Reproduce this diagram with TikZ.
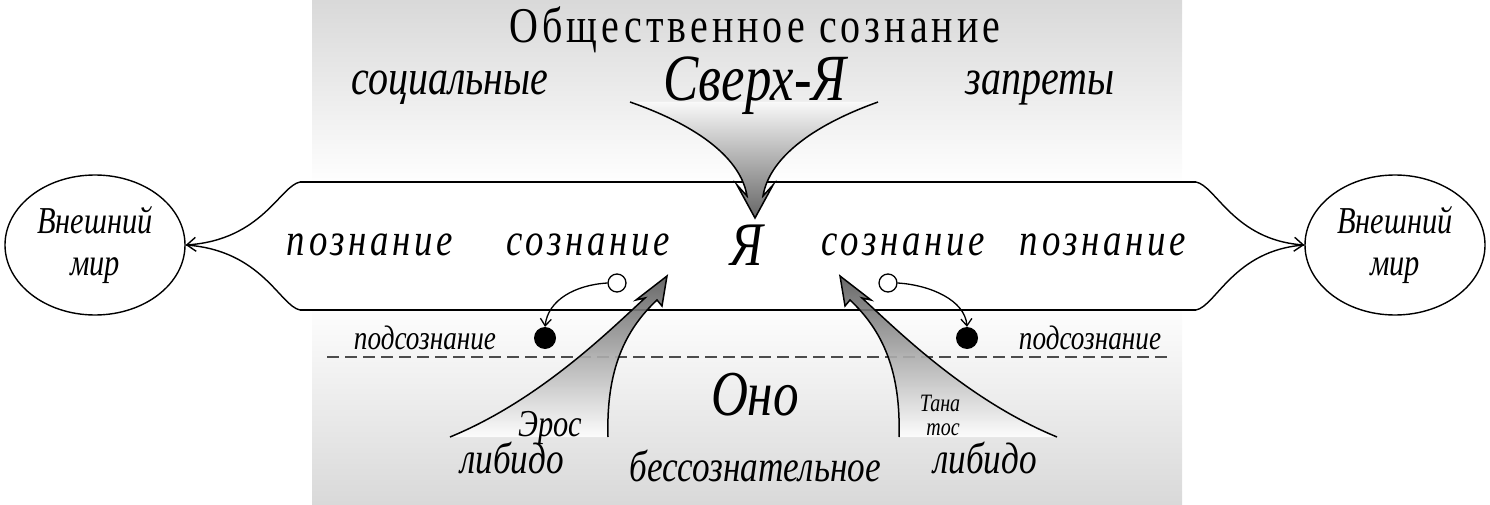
\documentclass[tikz,border=0pt]{standalone}
\usepackage{fontspec}
\setmainfont{Liberation Serif}
\newfontfamily\spc{Liberation Serif}[LetterSpace=10]
\newcommand{\sq}[1]{\scalebox{0.8}[1]{#1}}
\usetikzlibrary{arrows.meta,shapes.geometric}
\tikzset{
 lbl/.style={inner sep=0pt,font=\fontsize{#1}{#1}\selectfont\itshape},
 sl/.style={inner sep=0pt,font=\fontsize{#1}{#1}\selectfont\spc\itshape},
 bandline/.style={line width=1.6pt},
 conn/.style={line width=1.4pt,-{Straight Barb[length=9pt,width=14pt]}},
 big/.style={line width=1.5pt},
}
\begin{document}
\begin{tikzpicture}[x=1pt,y=-1pt]
\useasboundingbox (0,0) rectangle (1490,505);
\shade[top color=gray!30,bottom color=white] (312,0) rectangle (1182,185);
\shade[top color=white,bottom color=gray!30] (312,300) rectangle (1182,505);
% band
\fill[white] (313,182) -- (1183,182) .. controls (1210,185) and (1230,240) .. (1273,245) .. controls (1230,250) and (1210,307) .. (1183,310) -- (313,310) .. controls (286,307) and (266,250) .. (216,245) .. controls (266,240) and (286,185) .. (313,182);
\draw[bandline] (300,182) -- (1196,182);
\draw[bandline] (300,310) -- (1196,310);
\node[draw,line width=1.4pt,ellipse,minimum width=180pt,minimum height=140pt] (L) at (95,245) {};
\node[draw,line width=1.4pt,ellipse,minimum width=180pt,minimum height=140pt] (R) at (1395,245) {};
\coordinate (bl1) at (300,182); \coordinate (bl2) at (300,310);
\coordinate (br1) at (1196,182); \coordinate (br2) at (1196,310);
\draw[conn] (bl1) .. controls (280,186) and (262,240) .. (L.east);
\draw[line width=1.4pt] (bl2) .. controls (280,306) and (262,250) .. (L.east);
\draw[conn] (br1) .. controls (1216,186) and (1234,240) .. (R.west);
\draw[line width=1.4pt] (br2) .. controls (1216,306) and (1234,250) .. (R.west);
\node[lbl=38,align=center] at (L) {\sq{Внешний}\\[4pt]\sq{мир}};
\node[lbl=38,align=center] at (R) {\sq{Внешний}\\[4pt]\sq{мир}};
% Sverh arrow
\shade[top color=gray!5,bottom color=gray!80!black] (630,102) .. controls (710,130) and (742,165) .. (747,196) -- (737,185) -- (755,218) -- (773,185) -- (763,196) .. controls (768,165) and (800,130) .. (878,102) -- cycle;
\draw[big,line join=miter] (630,102) .. controls (710,130) and (742,165) .. (747,196) -- (737,185) -- (755,218) -- (773,185) -- (763,196) .. controls (768,165) and (800,130) .. (878,102);
% titles
\node[inner sep=0pt,font=\fontsize{50}{50}\selectfont\spc] (title) at (755,30) {\sq{Общественное сознание}};
\node[lbl=50] (soc) at (450,88) {\sq{социальные}};
\node[lbl=50] (zap) at (1040,88) {\sq{запреты}};
\node[lbl=66] (sup) at (755,86) {\sq{Сверх-Я}};
% middle row
\node[sl=46] at (370,245) {\sq{познание}};
\node[sl=46] at (588,245) {\sq{сознание}};
\node[lbl=62] (ya) at (747,245) {\sq{Я}};
\node[sl=46] at (903,245) {\sq{сознание}};
\node[sl=46] at (1103,245) {\sq{познание}};
% circles
\node[draw,line width=1.3pt,fill=white,circle,minimum size=18pt,inner sep=0pt] (o1) at (617,283) {};
\node[draw,line width=1.3pt,fill=white,circle,minimum size=18pt,inner sep=0pt] (o2) at (888,283) {};
\node[fill=black,circle,minimum size=22pt,inner sep=0pt] (f1) at (545,338) {};
\node[fill=black,circle,minimum size=22pt,inner sep=0pt] (f2) at (967,338) {};
\draw[line width=1.3pt,-{Straight Barb[length=7pt,width=11pt]}] (o1.west) .. controls (575,285) and (548,300) .. (f1.north);
\draw[line width=1.3pt,-{Straight Barb[length=7pt,width=11pt]}] (o2.east) .. controls (930,285) and (965,300) .. (f2.north);
\node[lbl=34] at (425,338) {\sq{подсознание}};
\node[lbl=34] at (1090,338) {\sq{подсознание}};
\draw[line width=1.6pt,dash pattern=on 12pt off 6pt,gray!60!black] (327,357) -- (1172,357);
% libido arrows
\shade[top color=gray!70!black,bottom color=white,opacity=0.9] (450,437) .. controls (540,400) and (610,330) .. (645,298) -- (636,300) -- (667,276) -- (662,306) -- (657,300) .. controls (625,330) and (606,370) .. (608,437) -- cycle;
\draw[big,line join=miter] (450,437) .. controls (540,400) and (610,330) .. (645,298) -- (636,300) -- (667,276) -- (662,306) -- (657,300) .. controls (625,330) and (606,370) .. (608,437);
\shade[top color=gray!70!black,bottom color=white,opacity=0.9] (1057,437) .. controls (967,400) and (897,330) .. (862,298) -- (871,300) -- (840,276) -- (845,306) -- (850,300) .. controls (882,330) and (901,370) .. (899,437) -- cycle;
\draw[big,line join=miter] (1057,437) .. controls (967,400) and (897,330) .. (862,298) -- (871,300) -- (840,276) -- (845,306) -- (850,300) .. controls (882,330) and (901,370) .. (899,437);
\node[lbl=64] at (755,395) {\sq{Оно}};
\node[lbl=38] at (550,428) {\sq{Эрос}};
\node[lbl=44] at (512,458) {\sq{либидо}};
\node[lbl=44] at (755,466) {\sq{бессознательное}};
\node[lbl=25] at (940,403) {\sq{Тана}};
\node[lbl=25] at (943,430) {\sq{тос}};
\node[lbl=44] at (985,458) {\sq{либидо}};
\end{tikzpicture}
\end{document}
